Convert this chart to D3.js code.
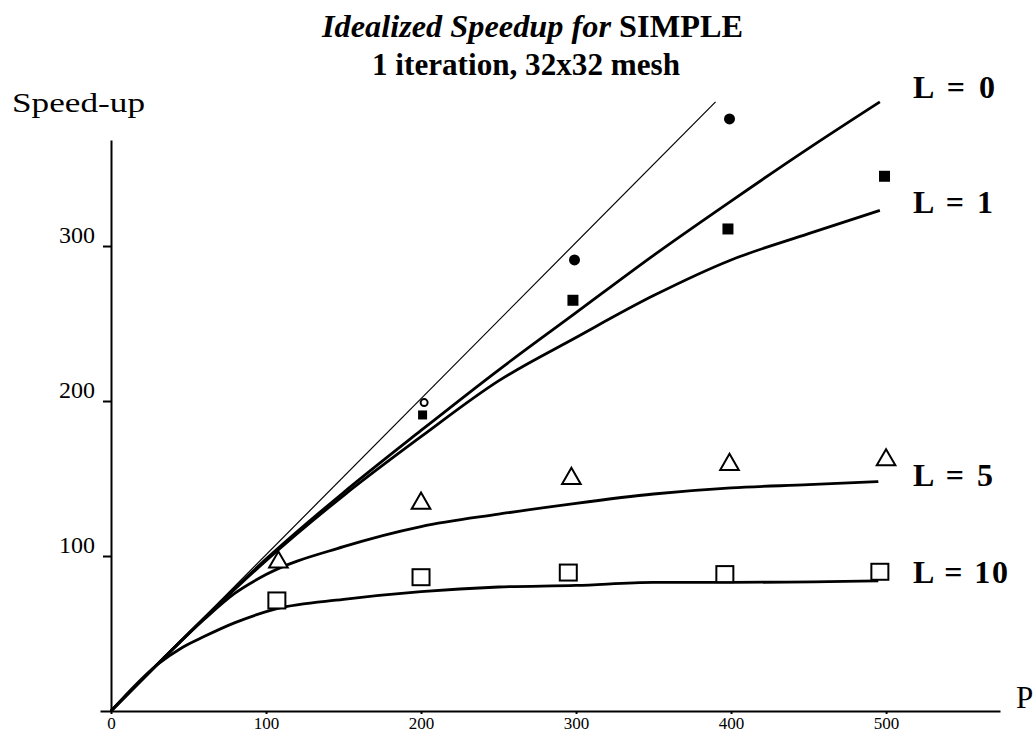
<!DOCTYPE html>
<html>
<head>
<meta charset="utf-8">
<script src="https://cdn.jsdelivr.net/npm/d3@7"></script>
<style>
    body { margin: 0; background: #fff; }
    text { font-family: "Liberation Serif", "DejaVu Serif", serif; fill: #000; }
    .axis path, .axis line { stroke: #000; stroke-width: 2; }
    .curve { fill: none; stroke: #000; stroke-width: 2.8; stroke-linejoin: round; }
    .ideal { fill: none; stroke: #000; stroke-width: 1.2; }
</style>
</head>
<body>
<div id="speedup-chart"></div>
<script>
// tick labels
const pTicks = [0, 100, 200, 300, 400, 500];
const sTicks = [100, 200, 300];

// ideal (linear) speedup, thin line
const idealLine = [[0, 0], [390, 393]];

// fitted curves, [processors, speed-up]
const curveL0 = [[0, 0], [50, 50], [100, 98], [150, 141], [200, 181], [250, 220], [300, 257], [350, 294], [400, 329], [450, 363], [496, 393]];
const curveL1 = [[0, 0], [50, 50], [100, 97], [150, 139], [200, 177], [250, 213], [300, 241], [350, 268], [400, 291], [450, 308], [496, 323]];
const curveL5 = [[0, 0], [40, 40], [60, 59], [80, 76], [100, 88], [150, 106], [200, 119], [250, 127], [300, 134], [350, 140], [400, 144], [450, 146], [495, 148]];
const curveL10 = [[0, 0], [30, 30], [46, 41], [60, 48], [80, 57], [107, 66], [150, 72], [200, 77], [250, 80], [300, 81], [350, 83], [400, 83], [495, 84]];

// measured points
const pointsL0 = [[299, 291], [399, 382]];
const pointsL0small = [[202, 199]];
const pointsL1 = [[201, 191], [298, 265], [398, 311], [499, 345]];
const pointsL5 = [[108, 96], [200, 134], [297, 150], [399, 159], [500, 162]];
const pointsL10 = [[107, 71], [200, 86], [295, 89], [396, 88], [496, 89.5]];

const curveLabels = ["L = 0", "L = 1", "L = 5", "L = 10"];

/**
 * Constructor for the speedup chart
 */
function SpeedupChart(){
    let self = this;
    self.init();
};

/**
 * Builds the svg, axes, curves and markers
 */
SpeedupChart.prototype.init = function(){
    let self = this;
    self.width = 1035;
    self.height = 734;

    self.svg = d3.select("#speedup-chart").append("svg")
        .attr("width", self.width)
        .attr("height", self.height);

    // 1.55 px per unit on both axes, origin at (111, 711)
    self.x = d3.scaleLinear().domain([-7.1, 573.5]).range([100, 1000]);
    self.y = d3.scaleLinear().domain([0, 368.4]).range([711, 140]);

    let x = self.x, y = self.y;

    // x axis
    let xAxis = self.svg.append("g")
        .attr("class", "axis")
        .attr("transform", "translate(0," + y(0) + ")")
        .call(d3.axisBottom(x).tickValues(pTicks).tickSize(3).tickSizeOuter(0));
    xAxis.selectAll("text")
        .attr("y", 18)
        .attr("dy", 0)
        .style("font-size", "17px")
        .style("font-family", "Liberation Serif");

    // y axis
    let yAxis = self.svg.append("g")
        .attr("class", "axis")
        .attr("transform", "translate(" + x(0) + ",0)")
        .call(d3.axisLeft(y).tickValues(sTicks).tickSize(8).tickSizeOuter(0));
    yAxis.selectAll("text")
        .attr("x", -16)
        .attr("dy", "-0.15em")
        .style("font-size", "24px")
        .style("font-family", "Liberation Serif");

    // axis titles
    self.svg.append("text")
        .attr("x", 12).attr("y", 112)
        .attr("textLength", 133)
        .attr("lengthAdjust", "spacingAndGlyphs")
        .style("font-size", "27px")
        .text("Speed-up");

    self.svg.append("text")
        .attr("x", 1016).attr("y", 708)
        .style("font-size", "31px")
        .text("P");

    // chart title
    let title = self.svg.append("text")
        .attr("x", 322).attr("y", 37)
        .attr("textLength", 421)
        .attr("lengthAdjust", "spacingAndGlyphs")
        .style("font-size", "31px")
        .style("font-weight", "bold");
    title.append("tspan").style("font-style", "italic").text("Idealized Speedup for ");
    title.append("tspan").text("SIMPLE");

    self.svg.append("text")
        .attr("x", 372).attr("y", 75)
        .attr("textLength", 308)
        .attr("lengthAdjust", "spacingAndGlyphs")
        .style("font-size", "31px")
        .style("font-weight", "bold")
        .text("1 iteration, 32x32 mesh");

    let line = d3.line()
        .x(function(d) { return x(d[0]); })
        .y(function(d) { return y(d[1]); })
        .curve(d3.curveMonotoneX);

    self.svg.append("path")
        .attr("class", "ideal")
        .attr("d", d3.line().x(d => x(d[0])).y(d => y(d[1]))(idealLine));

    let curves = [curveL0, curveL1, curveL5, curveL10];
    self.svg.selectAll(".curve")
        .data(curves)
        .enter()
        .append("path")
        .attr("class", "curve")
        .attr("d", line);

    // filled circles (L = 0)
    self.svg.selectAll(".dotL0")
        .data(pointsL0)
        .enter()
        .append("circle")
        .attr("class", "dotL0")
        .attr("cx", d => x(d[0]))
        .attr("cy", d => y(d[1]))
        .attr("r", 5.5)
        .attr("fill", "#000");

    self.svg.selectAll(".dotL0small")
        .data(pointsL0small)
        .enter()
        .append("circle")
        .attr("cx", d => x(d[0]))
        .attr("cy", d => y(d[1]))
        .attr("r", 3.5)
        .attr("fill", "#fff")
        .attr("stroke", "#000")
        .attr("stroke-width", 2);

    // filled squares (L = 1), the first one is smaller
    self.svg.selectAll(".sqL1")
        .data(pointsL1)
        .enter()
        .append("rect")
        .attr("class", "sqL1")
        .attr("x", (d, i) => x(d[0]) - (i == 0 ? 4.5 : 5.5))
        .attr("y", (d, i) => y(d[1]) - (i == 0 ? 4.5 : 5.5))
        .attr("width", (d, i) => i == 0 ? 9 : 11)
        .attr("height", (d, i) => i == 0 ? 9 : 11)
        .attr("fill", "#000");

    // open triangles (L = 5)
    let tri = d3.symbol().type(d3.symbolTriangle).size(150);
    self.svg.selectAll(".triL5")
        .data(pointsL5)
        .enter()
        .append("path")
        .attr("class", "triL5")
        .attr("d", tri)
        .attr("transform", d => "translate(" + x(d[0]) + "," + y(d[1]) + ")")
        .attr("fill", "#fff")
        .attr("stroke", "#000")
        .attr("stroke-width", 2);

    // open squares (L = 10)
    self.svg.selectAll(".sqL10")
        .data(pointsL10)
        .enter()
        .append("rect")
        .attr("class", "sqL10")
        .attr("x", d => x(d[0]) - 8.5)
        .attr("y", d => y(d[1]) - 8.5)
        .attr("width", 17)
        .attr("height", 16)
        .attr("fill", "#fff")
        .attr("stroke", "#000")
        .attr("stroke-width", 2);

    // curve labels, placed next to the end of each curve
    let nudge = [-4, 3, 4, 2];
    let widths = [82, 80, 80, 95];
    self.svg.selectAll(".label")
        .data(curveLabels)
        .enter()
        .append("text")
        .attr("class", "label")
        .attr("x", 913)
        .attr("y", (d, i) => y(curves[i][curves[i].length - 1][1]) + nudge[i])
        .attr("textLength", (d, i) => widths[i])
        .attr("lengthAdjust", "spacing")
        .style("font-size", "32px")
        .style("font-weight", "bold")
        .text(d => d);
};

new SpeedupChart();
</script>
</body>
</html>
